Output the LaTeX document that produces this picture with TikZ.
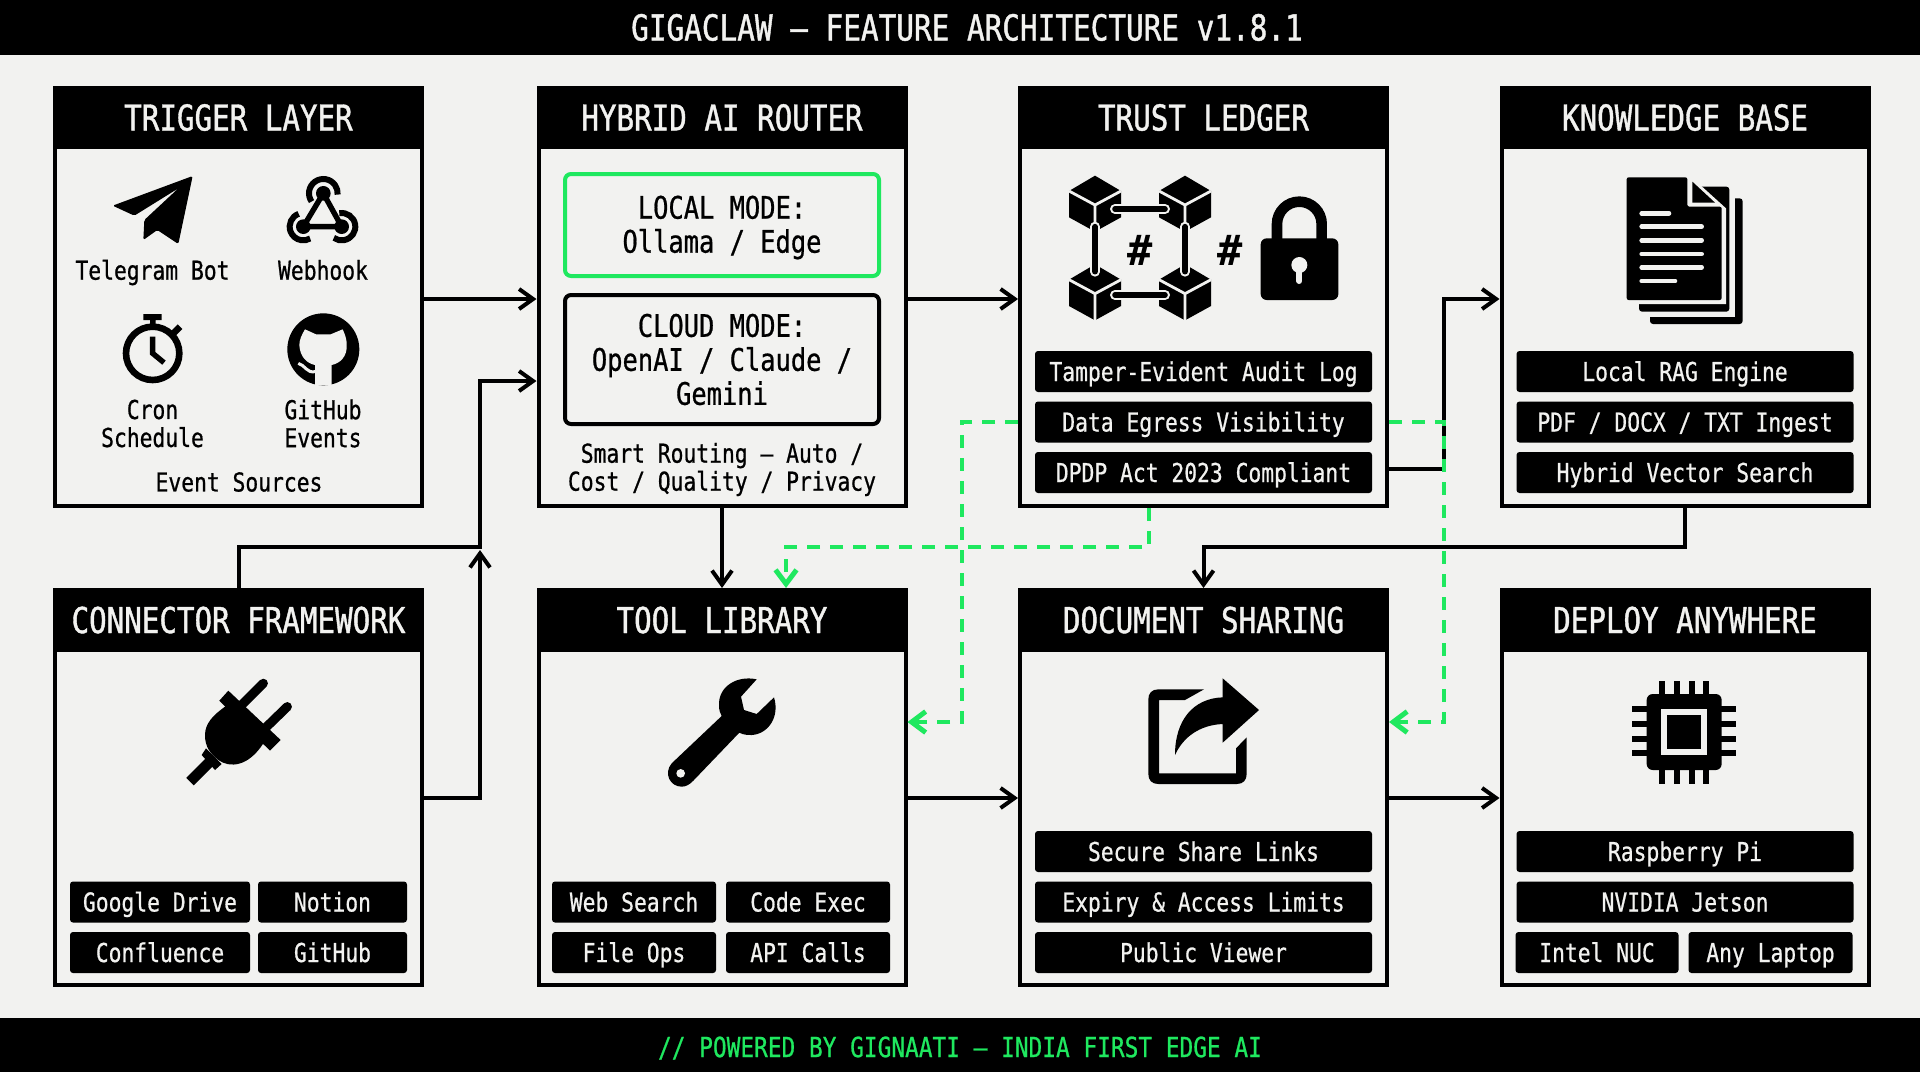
\documentclass[tikz,border=0pt]{standalone}
\usepackage{fontspec}
\usetikzlibrary{arrows.meta}
\newfontfamily\mono[FakeStretch=0.82,FakeBold=0.7]{DejaVu Sans Mono}
\newfontfamily\monotitle[FakeStretch=0.82,FakeBold=1.1]{DejaVu Sans Mono}
\newfontfamily\monohash{DejaVu Sans Mono Bold}
\definecolor{paper}{HTML}{F2F2F0}
\definecolor{ink}{HTML}{000000}
\definecolor{signal}{HTML}{1FE85F}
\newcommand\liftline[1]{\rule{0pt}{#1}}
\tikzset{
  small/.style={font=\mono\fontsize{13}{14}\selectfont},
  panel/.style={draw=ink,line width=2pt,fill=paper,minimum width=183.5pt,minimum height=209pt,inner sep=0pt,rectangle},
  panellow/.style={panel,minimum height=197.5pt},
  hdr/.style={fill=ink,text=paper,minimum width=185.5pt,minimum height=31.5pt,inner sep=0pt,outer sep=0pt,font=\monotitle\fontsize{17.8}{20}\selectfont,text height=13pt,text depth=0pt},
  pill/.style={small,fill=ink,text=paper,rounded corners=1.5pt,minimum height=20.5pt,inner sep=0pt,text height=9.5pt,text depth=0pt},
  wide/.style={pill,minimum width=168.5pt},
  lab/.style={small,text=ink,align=center,inner sep=0pt},
  modetext/.style={font=\mono\fontsize{15.5}{17}\selectfont,text=ink,align=center,inner sep=0pt,rounded corners=3pt,line width=2pt,minimum width=157pt},
  flow/.style={draw=ink,line width=2pt,-{Straight Barb[length=7pt,width=10pt]}},
  gflow/.style={draw=signal,line width=2.2pt,dash pattern=on 6.5pt off 5pt,-{Straight Barb[length=7pt,width=10.5pt,line width=2.5pt]}},
  bar/.style={fill=ink,minimum width=960pt,inner sep=0pt,outer sep=0pt},
  hashmark/.style={font=\monohash\fontsize{21}{24}\selectfont,text=ink,inner sep=0pt},
}
\begin{document}
\begin{tikzpicture}[x=0.5pt,y=-0.5pt]
\useasboundingbox (0,0) rectangle (1920,1072);
\fill[paper] (0,0) rectangle (1920,1072);

\fill[ink] (0,0) rectangle (1920,55);
\fill[ink] (0,1018) rectangle (1920,1072);
\node[text=paper,font=\monotitle\fontsize{17.9}{20}\selectfont,text height=13pt,text depth=0pt,inner sep=0pt] (titlebar) at (967,27.5) {GIGACLAW — FEATURE ARCHITECTURE v1.8.1};
\node[text=signal,font=\mono\fontsize{13.9}{16}\selectfont,text height=10.1pt,text depth=0pt,inner sep=0pt] (footbar) at (960,1047) {// POWERED BY GIGNAATI — INDIA FIRST EDGE AI};

% panels
\node[panel] (trigger) at (238.5,297) {};
\node[panel] (router) at (722,297) {};
\node[panel] (trust) at (1203.5,297) {};
\node[panel] (kb) at (1685,297) {};
\node[panellow] (connector) at (238.5,787.5) {};
\node[panellow] (tool) at (722,787.5) {};
\node[panellow] (doc) at (1203.5,787.5) {};
\node[panellow] (deploy) at (1685,787.5) {};

\node[hdr] (h1) at (238.5,117.5) {TRIGGER LAYER};
\node[hdr] (h2) at (722,117.5) {HYBRID AI ROUTER};
\node[hdr] (h3) at (1203.5,117.5) {TRUST LEDGER};
\node[hdr] (h4) at (1685,117.5) {KNOWLEDGE BASE};
\node[hdr] (h5) at (238.5,620) {CONNECTOR FRAMEWORK};
\node[hdr] (h6) at (722,620) {TOOL LIBRARY};
\node[hdr] (h7) at (1203.5,620) {DOCUMENT SHARING};
\node[hdr] (h8) at (1685,620) {DEPLOY ANYWHERE};

% trigger labels
\node[lab] (telegram) at (152.5,272.5) {Telegram Bot};
\node[lab] (webhook) at (323,270) {Webhook};
\node[lab] (cron) at (152.5,423.5) {Cron\\Schedule};
\node[lab] (ghevents) at (323,423.5) {GitHub\\Events};
\node[lab] (sources) at (239,482) {Event Sources};

% router
\node[modetext,draw=signal,minimum height=51pt] (localmode) at (722,225) {\liftline{14pt}LOCAL MODE:\\Ollama / Edge};
\node[modetext,draw=ink,minimum height=64.5pt] (cloudmode) at (722,359.5) {CLOUD MODE:\\OpenAI / Claude /\\Gemini};
\node[lab] (smart) at (722,469.5) {Smart Routing — Auto /\\Cost / Quality / Privacy};

% pills
\node[wide] (t1) at (1203.5,371.5) {Tamper-Evident Audit Log};
\node[wide] (t2) at (1203.5,422) {Data Egress Visibility};
\node[wide] (t3) at (1203.5,472.5) {DPDP Act 2023 Compliant};
\node[wide] (k1) at (1685,371.5) {Local RAG Engine};
\node[wide] (k2) at (1685,422) {PDF / DOCX / TXT Ingest};
\node[wide] (k3) at (1685,472.5) {Hybrid Vector Search};
\node[pill,minimum width=90pt] (c1) at (160,902) {Google Drive};
\node[pill,minimum width=74.5pt] (c2) at (332.5,902) {Notion};
\node[pill,minimum width=90pt] (c3) at (160,952.5) {Confluence};
\node[pill,minimum width=74.5pt] (c4) at (332.5,952.5) {GitHub};
\node[pill,minimum width=82pt] (l1) at (634,902) {Web Search};
\node[pill,minimum width=82pt] (l2) at (808,902) {Code Exec};
\node[pill,minimum width=82pt] (l3) at (634,952.5) {File Ops};
\node[pill,minimum width=82pt] (l4) at (808,952.5) {API Calls};
\node[wide] (d1) at (1203.5,851.5) {Secure Share Links};
\node[wide] (d2) at (1203.5,902) {Expiry \& Access Limits};
\node[wide] (d3) at (1203.5,952.5) {Public Viewer};
\node[wide] (e1) at (1685,851.5) {Raspberry Pi};
\node[wide] (e2) at (1685,902) {NVIDIA Jetson};
\node[pill,minimum width=81.5pt] (e3) at (1597,952.5) {Intel NUC};
\node[pill,minimum width=82pt] (e4) at (1770.5,952.5) {Any Laptop};

% ---- trigger icons
\begin{scope}[shift={(40,70)},scale=1/3]
  % plane
  \fill[ink,rounded corners=0.8pt] (458,318) -- (218,407) -- (283,437) -- (415,355) -- (313,450) -- (310,510) -- (352,480) -- (415,522) -- cycle;
  % webhook
  \draw[ink,line width=3pt] ([shift={(-215:43)}]850,370) arc[start angle=-215,end angle=5,radius=43];
  \draw[ink,line width=3pt] ([shift={(-110:41)}]790,470) arc[start angle=-110,end angle=-300,radius=41];
  \draw[ink,line width=3pt] ([shift={(-100:41)}]905,470) arc[start angle=-100,end angle=125,radius=41];
  \draw[ink,line width=2.7pt] (850,370) -- (790,470) -- (905,470) -- cycle;
  \fill[ink] (850,370) circle[radius=22] (790,470) circle[radius=22] (905,470) circle[radius=22];
  % stopwatch
  \draw[ink,line width=3.3pt] (338,850) circle[radius=80];
  \fill[ink] (310,732) rectangle (365,750) (330,750) rectangle (347,775);
  \draw[ink,line width=3.3pt] (398,792) -- (420,770);
  \draw[ink,line width=2.7pt] (338,800) -- (338,850) -- (372,878);
  % github
  \fill[ink] (850,838) circle[radius=108];
  \fill[paper] (795,778) -- (828,793) -- (872,793) -- (908,778) .. controls (918,800) and (920,810) .. (920,825) .. controls (922,860) and (900,880) .. (875,885) -- (875,945) -- (825,945) -- (825,885) .. controls (800,880) and (780,860) .. (778,825) .. controls (778,810) and (785,795) .. (795,778) -- cycle;
  \draw[paper,line width=1.5pt] (775,880) .. controls (795,885) and (800,910) .. (825,905);
\end{scope}

% ---- blockchain and lock
\begin{scope}[shift={(1010,80)},scale=1/3]
  \foreach \cx/\cy in {255/372,525/372,255/638,525/638}{
    \fill[ink] (\cx,\cy-85) -- (\cx+78,\cy-39) -- (\cx+78,\cy+40) -- (\cx,\cy+83) -- (\cx-78,\cy+40) -- (\cx-78,\cy-39) -- cycle;
    \draw[paper,line width=1.4pt] (\cx-78,\cy-39) -- (\cx,\cy+3) -- (\cx+78,\cy-39) (\cx,\cy+3) -- (\cx,\cy+85);
  }
  \foreach \ax/\ay/\bx/\by in {315/387/465/387,315/645/465/645,255/440/255/575,525/440/525/575}{
    \draw[paper,line width=5pt,line cap=round] (\ax,\ay) -- (\bx,\by);
    \draw[ink,line width=2.8pt,line cap=round] (\ax,\ay) -- (\bx,\by);
  }
  \node[hashmark] (hash1) at (390,510) {\#};
  \node[hashmark] (hash2) at (660,510) {\#};
  \fill[ink,rounded corners=3pt] (752,475) rectangle (985,660);
  \draw[ink,line width=5.3pt] (801,480) -- (801,432) arc[start angle=180,end angle=360,radius=67] -- (935,480);
  \fill[paper] (868,555) circle[radius=24];
  \draw[paper,line width=3pt,line cap=round] (868,560) -- (868,603);
\end{scope}

% ---- documents
\begin{scope}[shift={(1600,160)},scale=1/3]
  \fill[ink,rounded corners=1.5pt] (150,115) rectangle (428,492);
  \fill[paper] (137,60) rectangle (404,471);
  \fill[ink,rounded corners=1.5pt] (117,80) rectangle (388,455);
  \fill[paper] (68,40) -- (262,40) -- (378,145) -- (378,432) -- (68,432) -- cycle;
  \fill[ink,rounded corners=1pt] (80,52) -- (262,52) -- (262,140) -- (365,140) -- (365,420) -- (80,420) -- cycle;
  \fill[ink] (277,65) -- (345,128) -- (277,128) -- cycle;
  \draw[paper,line width=2.3pt,line cap=round]
    (125,160) -- (207,160) (125,200) -- (305,200) (125,241) -- (305,241)
    (125,282) -- (305,282) (125,322) -- (305,322) (125,363) -- (225,363);
\end{scope}

% ---- plug
\begin{scope}[shift={(150,660)},scale=1/3]
  \draw[ink,line width=4.6pt,line cap=round] (275,135) -- (340,70);
  \draw[ink,line width=4.6pt,line cap=round] (345,205) -- (412,140);
  \fill[ink] (208,122) -- (235,92) -- (392,240) -- (360,272) -- cycle;
  \fill[ink] (240,125) -- (225,140) .. controls (190,165) and (165,190) .. (165,225) .. controls (165,260) and (180,280) .. (205,300) .. controls (240,325) and (295,320) .. (340,250) -- (355,235) -- cycle;
  \fill[ink] (155,285) -- (168,265) -- (215,312) -- (195,330) -- cycle;
  \draw[ink,line width=5.3pt] (185,300) -- (120,365);
\end{scope}

% ---- wrench
\begin{scope}[shift={(640,660)},scale=1/3]
  \fill[ink] (350,58) .. controls (290,45) and (235,80) .. (237,135) .. controls (237,150) and (240,160) .. (245,168) -- (95,310) .. controls (70,340) and (90,380) .. (125,380) .. controls (140,380) and (150,372) .. (160,362) -- (298,218) .. controls (310,225) and (325,225) .. (335,225) .. controls (385,222) and (420,170) .. (402,112) -- (350,162) -- (312,150) -- (303,110) -- cycle;
  \fill[paper] (122,340) circle[radius=13];
\end{scope}

% ---- share
\begin{scope}[shift={(1130,660)},scale=1/3]
  \fill[ink] (222,88) -- (85,88) .. controls (65,88) and (55,100) .. (55,118) -- (55,342) .. controls (55,360) and (65,372) .. (85,372) -- (320,372) .. controls (340,372) and (350,360) .. (350,342) -- (350,232) -- (318,265) -- (318,340) -- (87,340) -- (87,120) -- (165,120) -- cycle;
  \fill[ink] (387,150) -- (278,55) -- (278,112) .. controls (190,115) and (135,180) .. (135,285) .. controls (160,230) and (210,195) .. (278,192) -- (278,248) -- cycle;
\end{scope}

% ---- chip
\begin{scope}[shift={(1610,660)},scale=1/3]
  \fill[ink,rounded corners=3pt] (110,102) rectangle (335,330);
  \fill[paper] (153,147) rectangle (292,285);
  \fill[ink] (172,165) rectangle (274,267);
  \foreach \p in {157,201,245,289}{
    \fill[ink] (\p-9,62) rectangle (\p+9,105);
    \fill[ink] (\p-9,327) rectangle (\p+9,372);
  }
  \foreach \p in {148,192,236,280}{
    \fill[ink] (67,\p-9) rectangle (113,\p+9);
    \fill[ink] (332,\p-9) rectangle (379,\p+9);
  }
\end{scope}

% ---- connectors
\coordinate (rowa) at (0,299);
\coordinate (rowb) at (0,381);
\coordinate (rowc) at (0,798);
\coordinate (bus) at (480,547);
\coordinate (bustip) at (480,550);
\coordinate (riser) at (1444,469);
\coordinate (midbus) at (0,547);
\coordinate (egress) at (0,422);
\coordinate (gleft) at (962,722);
\coordinate (gright) at (1444,722);
\coordinate (gmid) at (1149,547);
\coordinate (gdrop) at (786,547);

\draw[flow] (trigger.east |- rowa) -- (router.west |- rowa);
\draw[flow] (router.east |- rowa) -- (trust.west |- rowa);
\draw[flow] (connector.north) |- (bus) |- (router.west |- rowb);
\draw[flow] (connector.east |- rowc) -| (bustip);
\draw[flow] (router.south) -- (tool.north);
\draw[flow] (trust.east |- riser) -- (riser) |- (kb.west |- rowa);
\draw[flow] (kb.south) |- (doc.north |- midbus) -- (doc.north);
\draw[flow] (tool.east |- rowc) -- (doc.west |- rowc);
\draw[flow] (doc.east |- rowc) -- (deploy.west |- rowc);

\draw[gflow] (trust.west |- egress) -| (gleft) -- (tool.east |- gleft);
\draw[gflow] (trust.east |- egress) -| (gright) -- (doc.east |- gright);
\draw[gflow] (trust.south -| gmid) -- (gmid) -- (gdrop) -- (tool.north -| gdrop);
\end{tikzpicture}
\end{document}
